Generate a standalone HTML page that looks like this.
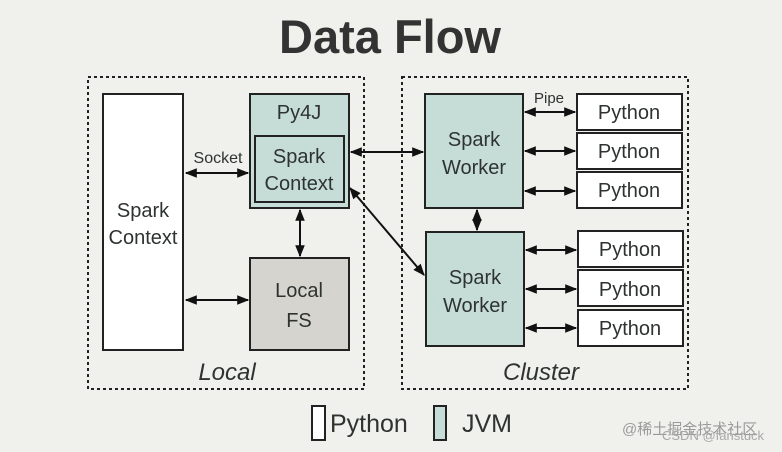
<!DOCTYPE html>
<html><head><meta charset="utf-8"><style>
html,body{margin:0;padding:0;background:#f0f0ec;}
svg{display:block}
text{font-family:"Liberation Sans",sans-serif;fill:#2e3331;}
</style></head><body>
<svg width="782" height="452" viewBox="0 0 782 452" xmlns="http://www.w3.org/2000/svg">
<defs>
<marker id="a" viewBox="0 0 10 10" refX="9" refY="5" markerWidth="6" markerHeight="6" orient="auto-start-reverse"><path d="M0,1 L10,5 L0,9 Z" fill="#111"/></marker>
</defs>
<rect width="782" height="452" fill="#f0f0ec"/>
<text x="390" y="53" font-size="47" font-weight="bold" text-anchor="middle" style="fill:#333">Data Flow</text>
<g fill="none" stroke="#222" stroke-width="2" stroke-dasharray="3,3">
<rect x="88" y="77" width="276" height="312"/>
<rect x="402" y="77" width="286" height="312"/>
</g>
<g stroke="#222" stroke-width="2">
<rect x="103" y="94" width="80" height="256" fill="#fff"/>
<rect x="250" y="94" width="99" height="114" fill="#c6ddd7"/>
<rect x="255" y="136" width="89" height="66" fill="#c6ddd7"/>
<rect x="250" y="258" width="99" height="92" fill="#d6d4cf"/>
<rect x="425" y="94" width="98" height="114" fill="#c6ddd7"/>
<rect x="426" y="232" width="98" height="114" fill="#c6ddd7"/>
<rect x="577" y="94" width="105" height="36" fill="#fff"/>
<rect x="577" y="133" width="105" height="36" fill="#fff"/>
<rect x="577" y="172" width="105" height="36" fill="#fff"/>
<rect x="578" y="231" width="105" height="36" fill="#fff"/>
<rect x="578" y="270" width="105" height="36" fill="#fff"/>
<rect x="578" y="310" width="105" height="36" fill="#fff"/>
<rect x="312" y="406" width="13" height="34" fill="#fff"/>
<rect x="434" y="406" width="12" height="34" fill="#c6ddd7"/>
</g>
<g stroke="#111" stroke-width="2" marker-start="url(#a)" marker-end="url(#a)">
<line x1="186" y1="173" x2="248" y2="173"/>
<line x1="186" y1="300" x2="248" y2="300"/>
<line x1="300" y1="210" x2="300" y2="256"/>
<line x1="351" y1="152" x2="423" y2="152"/>
<line x1="350" y1="188" x2="424" y2="275"/>
<line x1="477" y1="210" x2="477" y2="230"/>
<line x1="525" y1="112" x2="575" y2="112"/>
<line x1="525" y1="151" x2="575" y2="151"/>
<line x1="525" y1="191" x2="575" y2="191"/>
<line x1="526" y1="250" x2="576" y2="250"/>
<line x1="526" y1="289" x2="576" y2="289"/>
<line x1="526" y1="328" x2="576" y2="328"/>
</g>
<g font-size="20" text-anchor="middle">
<text x="143" y="217">Spark</text><text x="143" y="244">Context</text>
<text x="299" y="119">Py4J</text>
<text x="299" y="163">Spark</text><text x="299" y="190">Context</text>
<text x="299" y="297">Local</text><text x="299" y="327">FS</text>
<text x="474" y="146">Spark</text><text x="474" y="174">Worker</text>
<text x="475" y="284">Spark</text><text x="475" y="312">Worker</text>
<text x="629" y="119">Python</text><text x="629" y="158">Python</text><text x="629" y="197">Python</text>
<text x="630" y="256">Python</text><text x="630" y="296">Python</text><text x="630" y="335">Python</text>
</g>
<text x="218" y="163" font-size="16" text-anchor="middle">Socket</text>
<text x="549" y="103" font-size="15" text-anchor="middle">Pipe</text>
<text x="227" y="380" font-size="24" font-style="italic" text-anchor="middle">Local</text>
<text x="541" y="380" font-size="24" font-style="italic" text-anchor="middle">Cluster</text>
<text x="330" y="432" font-size="25">Python</text>
<text x="462" y="432" font-size="25">JVM</text>
<text x="622" y="434" font-size="15" style="fill:#9a9a9a;font-family:'Liberation Sans','Noto Sans CJK SC',sans-serif">@稀土掘金技术社区</text>
<text x="662" y="440" font-size="13" style="fill:#a8a8a8">CSDN @fanstuck</text>
</svg>
</body></html>
